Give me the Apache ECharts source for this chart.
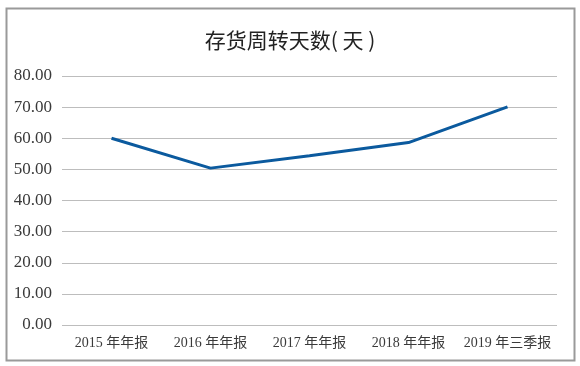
<!DOCTYPE html>
<html><head><meta charset="utf-8">
<script src="https://cdn.jsdelivr.net/npm/echarts@6/dist/echarts.min.js"></script>
<style>html,body{margin:0;padding:0;background:#fff}#c{width:580px;height:366px}</style>
</head><body><div id="c"></div>
<script>
var titleText = '存货周转天数( 天 )';
var categories = ['2015 年年报', '2016 年年报', '2017 年年报', '2018 年年报', '2019 年三季报'];
var days = [60.0, 50.4, 54.4, 58.6, 70.1];
var yMin = 0, yMax = 80, yStep = 10;

var chart = echarts.init(document.getElementById('c'));
chart.setOption({
  backgroundColor: '#fff',
  animation: false,
  title: {
    text: titleText, left: 'center', top: 25,
    textStyle: {fontFamily: '"Noto Sans CJK SC"', fontSize: 21, fontWeight: 'normal', color: '#222'}
  },
  graphic: [{
    type: 'rect', left: 4, top: 6, silent: true,
    shape: {width: 568, height: 352},
    style: {fill: 'none', stroke: '#9a9a9a', lineWidth: 2}
  }],
  grid: {left: 62, right: 23, top: 76, bottom: 41},
  xAxis: {
    type: 'category', data: categories, boundaryGap: true,
    axisLine: {show: false}, axisTick: {show: false},
    axisLabel: {margin: 11, fontSize: 14, color: '#3a3a3a', fontFamily: '"Liberation Serif", "Noto Sans CJK SC"', interval: 0}
  },
  yAxis: {
    type: 'value', min: yMin, max: yMax, interval: yStep,
    axisLine: {show: false}, axisTick: {show: false},
    axisLabel: {margin: 10, fontSize: 17, color: '#3a3a3a', fontFamily: '"Liberation Serif"',
      formatter: function (v) { return v.toFixed(2); }},
    splitLine: {lineStyle: {color: '#bdbdbd', width: 1}}
  },
  series: [{
    type: 'line', data: days, showSymbol: false, symbol: 'none',
    lineStyle: {color: '#0b5a9e', width: 3}
  }]
});
</script></body></html>
